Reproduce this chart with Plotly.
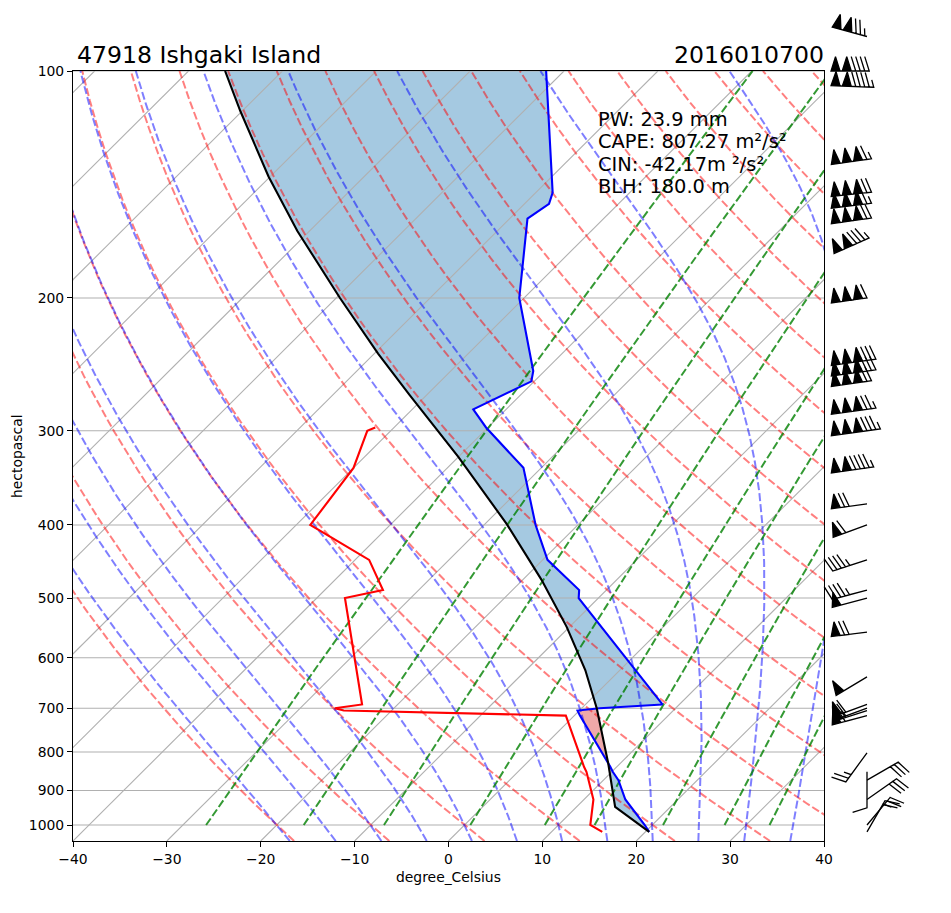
import numpy as np
import plotly.graph_objects as go

# ------------------------------------------------------------------ data
pressure_hpa = [1021, 1000, 925, 872, 850, 837, 716, 705, 700, 692, 500, 488, 445,
                400, 336, 300, 297, 281, 258, 250, 200, 157, 150, 145, 100]
temperature_c = [20.4, 19.2, 14.4, 11.6, 10.1, 9.3, 0.6, -0.2, 1.9, 8.2, -12.1, -12.9, -19.5,
                 -24.5, -31.9, -39.6, -40.2, -43.5, -40.3, -41.2, -50.5, -58.1, -57.4, -58.2, -71.9]
dewpoint_c = [15.4, 13.4, 11.0, 8.4, 7.3, 6.5, -0.9, -25.1, -26.3, -23.8, -37.0, -33.8, -38.5,
              -48.5, -50.0, -52.5, -52.0, None, None, None, None, None, None, None, None]

parcel_p = [1021, 946, 828, 733, 700, 623, 546, 473, 398, 325, 302, 282, 269, 237, 200, 163, 138,
            113, 100]
parcel_t = [20.4, 14.1, 8.7, 3.6, 1.6, -3.7, -10.3, -18.0, -27.8, -40.0, -44.6, -48.9, -51.8,
            -59.6, -69.6, -81.3, -90.2, -100.2, -106.1]

wind_p = [90, 100, 105, 131, 145, 150, 157, 167, 200, 242, 250, 258, 281, 300, 336, 375, 400,
          445, 488, 500, 555, 636, 692, 700, 705, 716, 802, 850, 872, 925, 1000, 1021]
wind_speed_kt = [125, 140, 145, 165, 170, 165, 170, 135, 160, 180, 180, 170, 175, 185, 145, 70, 60,
                 45, 45, 50, 70, 50, 60, 60, 55, 55, 25, 10, 30, 30, 25, 20]
wind_dir_deg = [285, 270, 272, 262, 264, 263, 262, 246, 262, 262, 262, 262, 262, 262, 262, 262, 250,
                252, 255, 255, 263, 239, 250, 250, 252, 255, 216, 180, 60, 55, 40, 30]

x_ticks = [-40, -30, -20, -10, 0, 10, 20, 30, 40]
p_ticks = [100, 200, 300, 400, 500, 600, 700, 800, 900, 1000]

dry_t0 = list(range(-20, 241, 10))          # dry adiabats, degC at 1000 hPa
moist_t0 = list(range(-20, 46, 5))          # moist adiabats, degC at 1000 hPa
mixing_w = [0.0004, 0.001, 0.002, 0.004, 0.007, 0.01, 0.016, 0.024, 0.032]

title_left = "47918 Ishgaki Island"
title_right = "2016010700"
stats_lines = ["PW: 23.9 mm", "CAPE: 807.27 m²/s²", "CIN: -42.17m ²/s²", "BLH: 180.0 m"]
x_label = "degree_Celsius"
y_label = "hectopascal"

# ------------------------------------------------------------------ layout constants
FIG_W, FIG_H = 951, 913
AX_L, AX_R, AX_T, AX_B = 73, 824, 71, 841
P_BOT, P_TOP = 1050.0, 100.0
X_MIN, X_MAX = -40.0, 40.0
SKEW = 82.3
FONT = "DejaVu Sans"
BARB_X = 867.0
BARB_LEN = 36.0

Rd, Cp, Lv, EPS = 287.04749, 1004.6662, 2.50084e6, 0.6219569
KAPPA = Rd / Cp


def skew_x(t, p):
    t = np.asarray(t, float)
    p = np.asarray(p, float)
    return t + SKEW * (np.log(P_BOT) - np.log(p)) / (np.log(P_BOT) - np.log(P_TOP))


def px(xp):
    return xp / FIG_W


def py(yp):
    return 1.0 - yp / FIG_H


fig = go.Figure()


def line(x, y, color, width, dash=None, xa="x", ya="y"):
    fig.add_trace(go.Scatter(x=list(x), y=list(y), mode="lines", xaxis=xa, yaxis=ya,
                             line=dict(color=color, width=width, dash=dash),
                             hoverinfo="skip", showlegend=False))


# ------------------------------------------------------------------ shading parcel vs environment
lp_env = np.log(np.array(pressure_hpa, float))
lp_par = np.log(np.array(parcel_p, float))
xs_env = skew_x(temperature_c, pressure_hpa)
xs_par = skew_x(parcel_t, parcel_p)
p_lo = max(min(pressure_hpa), min(parcel_p))
p_hi = min(max(pressure_hpa), max(parcel_p))
grid = np.exp(np.linspace(np.log(p_lo), np.log(p_hi), 1500))
grid = np.unique(np.concatenate([grid, [p for p in pressure_hpa if p_lo <= p <= p_hi],
                                 [p for p in parcel_p if p_lo <= p <= p_hi]]))
lg = np.log(grid)
oe = np.argsort(lp_env)
op = np.argsort(lp_par)
xe = np.interp(lg, lp_env[oe], xs_env[oe])
xpcl = np.interp(lg, lp_par[op], xs_par[op])
x_hi = np.maximum(xe, xpcl)
x_lo = np.minimum(xe, xpcl)
for xb, col in ((x_hi, "rgba(31,119,180,0.4)"), (x_lo, "rgba(214,39,40,0.4)")):
    fig.add_trace(go.Scatter(x=np.concatenate([xpcl, xb[::-1]]).tolist(),
                             y=np.concatenate([grid, grid[::-1]]).tolist(),
                             mode="lines", fill="toself", fillcolor=col, line=dict(width=0),
                             hoverinfo="skip", showlegend=False))

# ------------------------------------------------------------------ grid (skewed isotherms + isobars)
GRID = "#b0b0b0"
for t in range(-130, 41, 10):
    line(skew_x([t, t], [P_BOT, P_TOP]), [P_BOT, P_TOP], GRID, 1.1)
for p in p_ticks:
    line([X_MIN, X_MAX], [p, p], GRID, 1.1)

DASH = "8px,3px"
# ------------------------------------------------------------------ dry adiabats
p_dry = np.linspace(P_BOT, P_TOP, 100)
for t0 in dry_t0:
    t = (t0 + 273.15) * (p_dry / 1000.0) ** KAPPA - 273.15
    line(skew_x(t, p_dry), p_dry, "rgba(255,0,0,0.5)", 2, DASH)


# ------------------------------------------------------------------ moist adiabats
def dtdp(p, t):
    es = 6.112 * np.exp(17.67 * (t - 273.15) / (t - 29.65))
    rs = EPS * es / (p - es)
    return (Rd * t + Lv * rs) / (Cp + Lv * Lv * rs * EPS / (Rd * t * t)) / p


def integrate(t_start, p_path):
    out = [t_start.copy()]
    t = t_start.copy()
    for i in range(len(p_path) - 1):
        h = p_path[i + 1] - p_path[i]
        p = p_path[i]
        k1 = dtdp(p, t)
        k2 = dtdp(p + h / 2, t + h / 2 * k1)
        k3 = dtdp(p + h / 2, t + h / 2 * k2)
        k4 = dtdp(p + h, t + h * k3)
        t = t + h / 6 * (k1 + 2 * k2 + 2 * k3 + k4)
        out.append(t.copy())
    return np.array(out)


t0k = np.array(moist_t0, float) + 273.15
p_up = np.linspace(1000.0, P_TOP, 901)
p_dn = np.linspace(1000.0, P_BOT, 51)
t_up = integrate(t0k, p_up)
t_dn = integrate(t0k, p_dn)
p_m = np.concatenate([p_dn[::-1], p_up[1:]])
t_m = np.concatenate([t_dn[::-1], t_up[1:]], axis=0) - 273.15
for j in range(len(moist_t0)):
    ok = np.isfinite(t_m[:, j])
    line(skew_x(t_m[ok, j], p_m[ok]), p_m[ok], "rgba(0,0,255,0.5)", 2, DASH)

# ------------------------------------------------------------------ mixing ratio lines
p_mix = np.linspace(1000.0, P_TOP, 60)
for w in mixing_w:
    e = p_mix * w / (EPS + w)
    a = np.log(e / 6.112)
    td = 243.5 * a / (17.67 - a)
    line(skew_x(td, p_mix), p_mix, "rgba(0,128,0,0.8)", 2, DASH)

# ------------------------------------------------------------------ profiles
td_p = [p for p, d in zip(pressure_hpa, dewpoint_c) if d is not None]
td_v = [d for d in dewpoint_c if d is not None]
line(skew_x(temperature_c, pressure_hpa), pressure_hpa, "#0000ff", 2.1)
line(skew_x(td_v, td_p), td_p, "#ff0000", 2.1)
line(skew_x(parcel_t, parcel_p), parcel_p, "#000000", 2.1)

# ------------------------------------------------------------------ wind barbs (overlay axes)
yd0, yd1 = 1 - AX_B / FIG_H, 1 - AX_T / FIG_H
ppd = (AX_B - AX_T) / (np.log10(P_BOT) - np.log10(P_TOP))
lp_fig_bottom = float(np.log10(P_BOT) + (FIG_H - AX_B) / ppd)
lp_fig_top = float(np.log10(P_TOP) - AX_T / ppd)


def barb_vertices(spd, ddeg, L):
    spd = 5 * int(round(spd / 5.0))
    nflags = spd // 50
    rem = spd - 50 * nflags
    nbarbs = rem // 10
    half = (rem - 10 * nbarbs) >= 5
    spacing, height, width = 0.125 * L, 0.4 * L, 0.25 * L
    v = [(0.0, 0.0)]
    off = L
    for _ in range(nflags):
        if off != L:
            off += spacing / 2
        v += [(0.0, off), (height, off - width / 2), (0.0, off - width)]
        off -= width + spacing
    for _ in range(nbarbs):
        v += [(0.0, off), (height, off + width / 2), (0.0, off)]
        off -= spacing
    if half:
        if off == L:
            v.append((0.0, off))
            off -= 1.5 * spacing
        v += [(0.0, off), (height / 2, off + width / 4), (0.0, off)]
    v.append((0.0, 0.0))
    r = np.radians(ddeg)
    u, w = -np.sin(r), -np.cos(r)
    ang = np.arctan2(w, u) + np.pi / 2
    c, s = np.cos(ang), np.sin(ang)
    return [(x * c - y * s, x * s + y * c) for x, y in v]


bx, by = [], []
for p0, spd, d in zip(wind_p, wind_speed_kt, wind_dir_deg):
    for dx, dy in barb_vertices(spd, d, BARB_LEN):
        bx.append(float(BARB_X + dx))
        by.append(float(p0 * 10 ** (-dy / ppd)))
    bx.append(None)
    by.append(None)
fig.add_trace(go.Scatter(x=bx, y=by, xaxis="x2", yaxis="y2", mode="lines", fill="toself",
                         fillcolor="black", line=dict(color="black", width=1.3),
                         hoverinfo="skip", showlegend=False))

# ------------------------------------------------------------------ layout
tick_font = dict(family=FONT, size=13.9, color="black")
fig.update_layout(
    width=FIG_W, height=FIG_H, margin=dict(l=0, r=0, t=0, b=0), autosize=False,
    paper_bgcolor="white", plot_bgcolor="rgba(0,0,0,0)", showlegend=False,
    xaxis=dict(domain=[px(AX_L), px(AX_R)], range=[X_MIN, X_MAX], tickvals=x_ticks,
               ticktext=[str(v).replace("-", "\u2212") for v in x_ticks],
               ticks="outside", ticklen=5, tickwidth=1.1, tickcolor="black",
               showline=True, linecolor="black", linewidth=1.1, mirror=True,
               showgrid=False, zeroline=False, tickfont=tick_font, anchor="y",
               automargin=False, fixedrange=True),
    yaxis=dict(domain=[yd0, yd1], type="log",
               range=[float(np.log10(P_BOT)), float(np.log10(P_TOP))],
               tickvals=p_ticks, ticktext=[str(v) for v in p_ticks],
               ticks="outside", ticklen=5, tickwidth=1.1, tickcolor="black",
               showline=True, linecolor="black", linewidth=1.1, mirror=True,
               showgrid=False, zeroline=False, tickfont=tick_font, anchor="x",
               automargin=False, fixedrange=True),
    xaxis2=dict(domain=[0, 1], range=[0, FIG_W], visible=False, anchor="y2", fixedrange=True,
                showgrid=False, zeroline=False),
    yaxis2=dict(domain=[0, 1], type="log", range=[lp_fig_bottom, lp_fig_top], visible=False,
                anchor="x2", fixedrange=True, showgrid=False, zeroline=False),
)

ann = [
    dict(text=title_left, x=px(76), y=py(55), xanchor="left", yanchor="middle",
         font=dict(family=FONT, size=23.6, color="black")),
    dict(text=title_right, x=px(825), y=py(55), xanchor="right", yanchor="middle",
         font=dict(family=FONT, size=23.6, color="black")),
    dict(text=y_label, x=px(17), y=py(456), xanchor="center", yanchor="middle", textangle=-90,
         font=dict(family=FONT, size=13.9, color="black")),
    dict(text=x_label, x=px(448.5), y=py(877), xanchor="center", yanchor="middle",
         font=dict(family=FONT, size=13.9, color="black")),
]
for i, s in enumerate(stats_lines):
    ann.append(dict(text=s, x=px(597), y=py(119 + 22.5 * i), xanchor="left", yanchor="middle",
                    font=dict(family=FONT, size=19.4, color="black")))
for a in ann:
    a.update(xref="paper", yref="paper", showarrow=False, borderpad=0)
fig.update_layout(annotations=ann)

fig.write_html("out.html")
